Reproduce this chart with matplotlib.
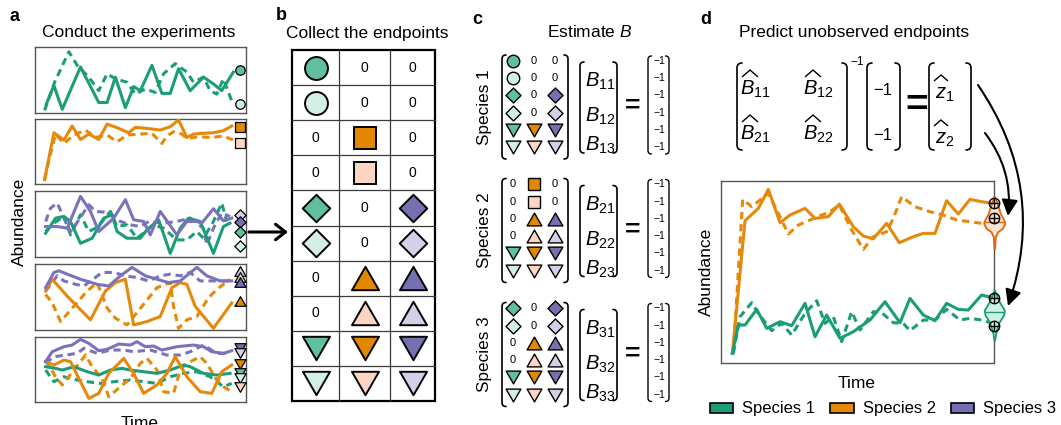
import numpy as np
import matplotlib
matplotlib.use('Agg')
import matplotlib.pyplot as plt
from matplotlib.path import Path
from matplotlib.patches import PathPatch, Patch, FancyArrowPatch

plt.rcParams['font.family'] = ['Liberation Sans', 'DejaVu Sans']
plt.rcParams['mathtext.fontset'] = 'custom'
plt.rcParams['mathtext.rm'] = 'Liberation Sans'
plt.rcParams['mathtext.it'] = 'Liberation Sans:italic'
plt.rcParams['mathtext.bf'] = 'Liberation Sans:bold'

W, H = 1061, 425

# ---------------- data: panel a (time, abundance) ----------------
row1_teal_solid = [(33,25),(56,80),(81,10),(136,135),(191,30),(216,30),(241,105),(271,15),(296,77),(316,65),
                   (351,140),(381,57),(406,57),(431,130),(466,65),(506,105),(536,85),(561,65),(596,120)]
row1_teal_dash = [(28,7),(58,90),(101,180),(126,140),(161,105),(191,65),(216,115),(241,100),(276,90),(301,55),
                  (331,70),(361,60),(386,115),(421,145),(456,120),(476,90),(506,105),(526,65),(546,55),(566,100),(591,35)]
row1_ends = [('o1', 127), ('o1L', 27)]

row2_orange_solid = [(28,14),(56,154),(86,132),(111,174),(136,134),(161,150),(191,134),(216,180),(251,167),(281,154),
                     (301,170),(336,167),(376,162),(406,172),(431,192),(456,140),(476,150),(501,152),(536,154),(566,160),(591,174)]
row2_orange_dash = [(28,14),(41,72),(51,112),(61,150),(86,122),(116,147),(151,162),(181,140),(216,147),(246,127),
                    (276,147),(316,150),(351,152),(381,122),(396,144),(416,157),(441,150),(456,137),(491,142),(531,140),
                    (566,144),(596,132),(606,122)]
row2_ends = [('s2', 170), ('s2L', 124)]

row3_purple_solid = [(31,90),(66,90),(96,85),(136,180),(166,135),(191,75),(236,115),(271,170),(296,110),(326,105),
                     (346,65),(376,135),(426,65),(456,105),(486,105),(501,100),(536,143),(566,107),(591,115)]
row3_purple_dash = [(31,105),(46,145),(66,160),(86,115),(106,75),(121,95),(161,155),(181,135),(206,133),(231,125),
                    (256,105),(286,95),(316,90),(341,105),(386,100),(426,105),(466,115),(506,85),(516,35),(536,85),
                    (561,130),(586,120)]
row3_teal_solid = [(31,70),(61,115),(86,120),(106,105),(136,40),(171,55),(206,115),(231,125),(246,75),(276,55),
                   (316,55),(336,80),(371,110),(406,10),(436,85),(461,115),(496,105),(536,10),(566,90),(586,100)]
row3_teal_dash = [(31,75),(56,100),(86,120),(106,65),(136,125),(161,75),(181,85),(201,105),(226,135),(246,90),
                  (276,95),(306,55),(331,75),(356,95),(386,85),(426,50),(456,50),(486,75),(506,55),(536,105),
                  (561,160),(576,105)]
row3_ends = [('D3L', 123), ('D3', 103), ('D1', 75), ('D1L', 32)]

row4_purple_solid = [(31,125),(56,170),(71,175),(96,165),(136,150),(186,135),(221,130),(256,160),(291,185),(331,160),
                     (366,150),(401,140),(436,145),(486,185),(516,160),(556,145),(591,145)]
row4_purple_dash = [(31,115),(66,160),(86,145),(121,135),(146,130),(201,170),(236,170),(271,160),(306,155),(341,145),
                    (376,160),(406,165),(436,160),(466,170),(496,145),(536,145),(586,145)]
row4_orange_solid = [(31,115),(51,150),(96,100),(166,30),(211,115),(241,140),(271,150),(296,15),(336,25),(376,40),
                     (411,125),(436,140),(456,135),(481,70),(536,5),(591,80)]
row4_orange_dash = [(31,105),(51,80),(76,25),(116,70),(156,115),(186,140),(216,65),(241,35),(276,15),(321,70),
                    (366,125),(406,140),(416,70),(431,5),(456,30),(486,40),(521,95),(546,120),(586,150)]
row4_ends = [('^3L', 173), ('^2L', 157), ('^3', 141), ('^2', 86)]

row5_purple_solid = [(31,120),(51,150),(86,165),(111,170),(136,187),(161,175),(191,153),(216,157),(251,173),(286,170),
                     (306,180),(331,165),(356,167),(381,155),(426,165),(476,170),(506,165),(531,150),(566,145),(591,153)]
row5_purple_dash = [(31,115),(56,135),(91,140),(126,145),(146,160),(186,145),(226,155),(266,155),(296,150),(346,155),
                    (396,140),(436,140),(466,150),(506,170),(546,145),(571,145),(586,150)]
row5_orange_solid = [(31,120),(56,110),(86,125),(106,120),(136,60),(161,10),(191,25),(221,85),(266,130),(296,85),
                     (326,25),(366,50),(396,85),(421,135),(456,75),(496,30),(531,25),(561,90),(591,110)]
row5_orange_dash = [(31,125),(61,75),(81,50),(116,95),(151,140),(171,105),(201,70),(221,15),(256,45),(286,70),
                    (316,115),(336,130),(366,95),(386,30),(416,25),(436,95),(456,115),(496,135),(516,115),(546,65),
                    (566,45),(591,30)]
row5_teal_solid = [(31,105),(61,100),(81,95),(116,105),(156,90),(191,80),(226,95),(261,100),(286,95),(326,90),
                   (366,85),(406,95),(446,110),(466,105),(506,85),(546,80),(586,85)]
row5_teal_dash = [(31,95),(56,60),(86,75),(126,65),(156,60),(196,55),(236,60),(286,65),(326,60),(366,55),
                  (406,75),(446,85),(486,90),(526,75),(546,60),(566,45),(591,55)]
row5_ends = [('v3', 161), ('v3L', 146), ('v2', 113), ('v1', 86), ('v1L', 72), ('v2L', 44)]

# ---------------- data: panels b / c ----------------
endpoint_table = [
    ['o1', '0', '0'],
    ['o1L', '0', '0'],
    ['0', 's2', '0'],
    ['0', 's2L', '0'],
    ['D1', '0', 'D3'],
    ['D1L', '0', 'D3L'],
    ['0', '^2', '^3'],
    ['0', '^2L', '^3L'],
    ['v1', 'v2', 'v3'],
    ['v1L', 'v2L', 'v3L'],
]
species_rows = {1: [0, 1, 4, 5, 8, 9], 2: [2, 3, 6, 7, 8, 9], 3: [4, 5, 6, 7, 8, 9]}
rhs_values = ['\u22121'] * 6

# ---------------- data: panel d ----------------
d_orange_solid = [(35,28),(73,426),(113,463),(143,520),(178,420),(208,443),(253,463),(283,433),(323,438),(356,476),
                  (398,408),(428,380),(458,372),(498,418),(536,360),(578,378),(608,388),(643,388),(678,486),(713,446),
                  (748,490),(783,483),(816,478)]
d_orange_dash = [(38,28),(66,490),(93,468),(143,508),(173,448),(203,386),(233,413),(268,428),(303,443),(323,450),
                 (356,473),(393,398),(428,340),(458,378),(498,393),(518,433),(543,498),(583,468),(628,453),(668,443),
                 (708,428),(748,423),(783,418),(816,413)]
d_teal_solid = [(35,28),(53,113),(73,113),(108,160),(138,103),(178,123),(213,111),(253,178),(283,78),(318,143),
                (358,73),(398,93),(448,128),(493,183),(538,120),(568,193),(608,143),(643,126),(678,178),(713,160),
                (743,158),(783,203),(816,195)]
d_teal_dash = [(38,28),(58,138),(93,180),(113,148),(153,96),(183,118),(213,83),(253,148),(288,186),(313,118),
               (338,138),(363,63),(393,153),(418,98),(458,153),(483,150),(518,120),(548,118),(568,96),(608,128),
               (643,128),(678,160),(718,128),(748,133),(783,128),(816,118)]
d_orange_violin_levels = [343, 360, 378, 393, 403, 418, 430, 448, 468, 488, 498]
d_orange_violin_halfw = [1, 2, 3, 10, 24, 32, 28, 18, 12, 5, 1]
d_teal_violin_levels = [68, 88, 103, 123, 143, 158, 178, 198, 218]
d_teal_violin_halfw = [1, 4, 8, 15, 28, 30, 18, 8, 1]
d_orange_median = 423
d_teal_median = 153
d_orange_observed = [478, 433]
d_teal_observed = [193, 111]
legend_labels = ['Species 1', 'Species 2', 'Species 3']

# ---------------- styles ----------------
C1, C2, C3 = '#1b9e77', '#e6890b', '#7a72bb'
LEG = ['#1b9e77', '#e6890b', '#7570b3']
FILL = {'1': '#5fbf9f', '1L': '#d3eee5', '2': '#e28800', '2L': '#fdd5c5', '3': '#7470b2', '3L': '#d2d1e7'}
TRI_UP = Path([(0, 0.866), (-1, -0.866), (1, -0.866), (0, 0.866)],
              [Path.MOVETO, Path.LINETO, Path.LINETO, Path.CLOSEPOLY])
TRI_DN = Path([(0, -0.866), (-1, 0.866), (1, 0.866), (0, -0.866)],
              [Path.MOVETO, Path.LINETO, Path.LINETO, Path.CLOSEPOLY])
DIAM = Path([(0, 1), (1, 0), (0, -1), (-1, 0), (0, 1)],
            [Path.MOVETO, Path.LINETO, Path.LINETO, Path.LINETO, Path.CLOSEPOLY])
SHAPES = {'o': 'o', 's': 's', 'D': DIAM, '^': TRI_UP, 'v': TRI_DN}
SIZE_SCALE = {'o': 1.0, 's': 1.0, 'D': 1.2, '^': 1.18, 'v': 1.18}
FS = 12.5


def px_rect(x0, y0, x1, y1):
    return [x0 / W, 1 - y1 / H, (x1 - x0) / W, (y1 - y0) / H]


def draw_marker(ax, x, y, code, ms, mew, z=6):
    shp = code[0]
    ax.plot([x], [y], marker=SHAPES[shp], ms=ms * SIZE_SCALE[shp], mfc=FILL[code[1:]], mec='black',
            mew=mew, ls='none', clip_on=False, zorder=z)


def style_box(ax):
    ax.set_xticks([])
    ax.set_yticks([])
    for s in ax.spines.values():
        s.set_color('#555555')
        s.set_linewidth(1.0)


def draw_series(ax, pts, col, dashed, z=3):
    t, a = zip(*pts)
    if dashed:
        ax.plot(t, a, color=col, lw=2.2, ls=(0, (2.4, 1.6)), zorder=z)
    else:
        ax.plot(t, a, color=col, lw=2.2, zorder=z)


fig = plt.figure(figsize=(W / 100, H / 100), dpi=100)

# ---------------- panel a ----------------
rows = [
    (46.7, 112.7, [(row1_teal_dash, C1, True), (row1_teal_solid, C1, False)], row1_ends),
    (119.0, 184.3, [(row2_orange_dash, C2, True), (row2_orange_solid, C2, False)], row2_ends),
    (191.3, 256.7, [(row3_teal_dash, C1, True), (row3_purple_dash, C3, True),
                    (row3_teal_solid, C1, False), (row3_purple_solid, C3, False)], row3_ends),
    (264.0, 330.0, [(row4_orange_dash, C2, True), (row4_purple_dash, C3, True),
                    (row4_orange_solid, C2, False), (row4_purple_solid, C3, False)], row4_ends),
    (336.7, 401.7, [(row5_teal_dash, C1, True), (row5_orange_dash, C2, True), (row5_purple_dash, C3, True),
                    (row5_teal_solid, C1, False), (row5_orange_solid, C2, False), (row5_purple_solid, C3, False)], row5_ends),
]
for top, bot, series, ends in rows:
    ax = fig.add_axes(px_rect(35.3, top, 246.0, bot))
    for pts, col, dashed in series:
        draw_series(ax, pts, col, dashed)
    for code, val in ends:
        draw_marker(ax, 616, val, code, ms=6.8, mew=0.9)
    ax.set_xlim(0, 634)
    ax.set_ylim(0, 195)
    style_box(ax)

# ---------------- panel d axes ----------------
axd = fig.add_axes(px_rect(720.7, 180.7, 994.3, 362.7))
for pts, col, dashed in [(d_orange_dash, C2, True), (d_orange_solid, C2, False),
                         (d_teal_dash, C1, True), (d_teal_solid, C1, False)]:
    draw_series(axd, pts, col, dashed)
xe = 821
for lev, hw, med, fc, ec in [(d_orange_violin_levels, d_orange_violin_halfw, d_orange_median, '#fde3d3', '#e06812'),
                             (d_teal_violin_levels, d_teal_violin_halfw, d_teal_median, '#d2efe5', '#1b9e77')]:
    lev = np.array(lev, float)
    hw = np.array(hw, float)
    axd.fill_betweenx(lev, xe - hw, xe + hw, facecolor=fc, edgecolor=ec, lw=1.3, clip_on=False, zorder=4)
    mh = np.interp(med, lev, hw)
    axd.plot([xe - mh, xe + mh], [med, med], color=ec, lw=1.0, clip_on=False, zorder=5)
for val in d_orange_observed + d_teal_observed:
    axd.plot([xe], [val], marker='o', ms=7.5, mfc='none', mec='black', mew=1.0, clip_on=False, zorder=6)
    axd.plot([xe], [val], marker='+', ms=7.5, mec='black', mew=1.0, clip_on=False, zorder=6)
axd.set_xlim(0, 821)
axd.set_ylim(0, 546)
style_box(axd)

fig.legend(handles=[Patch(facecolor=c, edgecolor='black', lw=1.2, label=l) for c, l in zip(LEG, legend_labels)],
           loc='center', bbox_to_anchor=(883 / W, 1 - 409 / H), ncol=3, frameon=False, fontsize=12,
           handlelength=1.4, handleheight=0.55, columnspacing=0.9, handletextpad=0.55, borderaxespad=0)

# ---------------- overlay (pixel coords) ----------------
ov = fig.add_axes([0, 0, 1, 1], zorder=10)
ov.set_xlim(0, W)
ov.set_ylim(H, 0)
ov.axis('off')
ov.patch.set_visible(False)


def bracket(x, y0, y1, side, w=4.5, lw=1.2):
    s = 1 if side == 'L' else -1
    verts = [(x + s * w, y0), (x, y0), (x, y0 + w), (x, y1 - w), (x, y1), (x + s * w, y1)]
    codes = [Path.MOVETO, Path.CURVE3, Path.CURVE3, Path.LINETO, Path.CURVE3, Path.CURVE3]
    ov.add_patch(PathPatch(Path(verts, codes), fill=False, lw=lw, edgecolor='black', capstyle='round'))


def hat(xc, ytop, w, h, lw=1.0):
    ov.plot([xc - w / 2, xc, xc + w / 2], [ytop + h, ytop, ytop + h], color='black', lw=lw,
            solid_joinstyle='miter', solid_capstyle='butt')


# panel letters and titles
for lab, x, y in [('a', 14, 16), ('b', 281, 15), ('c', 477, 19), ('d', 706, 19)]:
    ov.text(x, y, lab, fontsize=13, fontweight='bold', ha='center', va='center')
ov.text(139, 32, 'Conduct the experiments', fontsize=FS, ha='center', va='center')
ov.text(367, 33, 'Collect the endpoints', fontsize=FS, ha='center', va='center')
ov.text(590, 32, 'Estimate $B$', fontsize=FS, ha='center', va='center')
ov.text(854, 32, 'Predict unobserved endpoints', fontsize=FS, ha='center', va='center')

# panel a labels
ov.text(19, 222, 'Abundance', fontsize=FS, rotation=90, ha='center', va='center')
ov.text(140, 416, 'Time', fontsize=FS, ha='center', va='top')

# arrow a -> b
ov.annotate('', xy=(288, 232), xytext=(249, 232),
            arrowprops=dict(arrowstyle='->,head_length=0.45,head_width=0.35', lw=2.2, color='black',
                            shrinkA=0, shrinkB=0, mutation_scale=16))

# panel b table
col_edges = [292, 339, 390, 435]
row_top, row_h = 50, 35.1
nrows = len(endpoint_table)
for i in range(1, nrows):
    ov.plot([col_edges[0], col_edges[-1]], [row_top + i * row_h] * 2, color='#3a3a3a', lw=0.9)
for xe_ in col_edges[1:-1]:
    ov.plot([xe_, xe_], [row_top, row_top + nrows * row_h], color='#3a3a3a', lw=0.9)
ov.add_patch(plt.Rectangle((col_edges[0], row_top), col_edges[-1] - col_edges[0], nrows * row_h,
                           fill=False, lw=1.6, edgecolor='black'))
for i, row in enumerate(endpoint_table):
    yc = row_top + (i + 0.5) * row_h
    for j, code in enumerate(row):
        xc = (col_edges[j] + col_edges[j + 1]) / 2
        if code == '0':
            ov.text(xc, yc, '0', fontsize=10, ha='center', va='center')
        else:
            draw_marker(ov, xc, yc, code, ms=16.5, mew=1.4, z=12)

# panel c blocks
block_centers = {1: 107, 2: 230.5, 3: 354.5}
ccols = [513, 534, 555]
for sp, cy in block_centers.items():
    ov.text(485, cy, f'Species {sp}', fontsize=12.3, rotation=90, ha='center', va='center')
    bracket(502, cy - 52, cy + 52, 'L', w=4)
    bracket(568, cy - 52, cy + 52, 'R', w=4)
    row_ys = [cy - 3 + (k - 2.5) * 17.3 for k in range(6)]
    for k, ridx in enumerate(species_rows[sp]):
        for j, code in enumerate(endpoint_table[ridx]):
            if code == '0':
                ov.text(ccols[j], row_ys[k], '0', fontsize=8, ha='center', va='center')
            else:
                draw_marker(ov, ccols[j], row_ys[k], code, ms=9, mew=1.0, z=12)
    bracket(580, cy - 45, cy + 46, 'L', w=4)
    bracket(617, cy - 45, cy + 46, 'R', w=4)
    for k, dy in enumerate([-20, 15, 44]):
        ov.text(585, cy + dy, f'$B_{{{sp}{k + 1}}}$', fontsize=14.5, ha='left', va='baseline')
    ov.text(633, cy - 1, '=', fontsize=19, fontweight='bold', ha='center', va='center')
    bracket(648, cy - 51, cy + 47, 'L', w=3.5, lw=1.0)
    bracket(669, cy - 51, cy + 47, 'R', w=3.5, lw=1.0)
    for k in range(6):
        ov.text(659, row_ys[k], rhs_values[k], fontsize=7.5, ha='center', va='center')

# panel d equation
bracket(737, 63, 150, 'L', w=5)
bracket(847, 63, 150, 'R', w=5)
for lab, x, y in [('$B_{11}$', 740, 95), ('$B_{12}$', 803, 95), ('$B_{21}$', 740, 140), ('$B_{22}$', 803, 140)]:
    ov.text(x, y, lab, fontsize=14.5, ha='left', va='baseline')
    hat(x + 10, y - 25, 16, 7)
ov.text(850, 62, '\u22121', fontsize=8.5, ha='left', va='center')
bracket(867, 63, 150, 'L', w=5)
bracket(900, 63, 150, 'R', w=5)
ov.text(883, 90, '\u22121', fontsize=12, ha='center', va='center')
ov.text(883, 135, '\u22121', fontsize=12, ha='center', va='center')
ov.text(917, 106, '=', fontsize=28, fontweight='bold', ha='center', va='center')
bracket(929, 63, 150, 'L', w=5)
bracket(971, 63, 150, 'R', w=5)
for lab, x, y in [('$z_1$', 935, 99), ('$z_2$', 935, 144)]:
    ov.text(x, y, lab, fontsize=14.5, ha='left', va='baseline')
    hat(x + 6, y - 24, 14, 6)

# curved arrows
for (x0, y0), (x1, y1), rad in [((978, 85), (1008, 306), -0.25), ((985, 133), (1008, 216), -0.2)]:
    ov.add_patch(FancyArrowPatch((x0, y0), (x1, y1), connectionstyle=f'arc3,rad={rad}',
                                 arrowstyle='-|>,head_length=0.7,head_width=0.35', mutation_scale=14,
                                 lw=1.5, color='black', shrinkA=0, shrinkB=0))

# panel d labels
ov.text(706, 272, 'Abundance', fontsize=FS, rotation=90, ha='center', va='center')
ov.text(857, 383, 'Time', fontsize=FS, ha='center', va='center')

fig.savefig('out.png', dpi=100)
